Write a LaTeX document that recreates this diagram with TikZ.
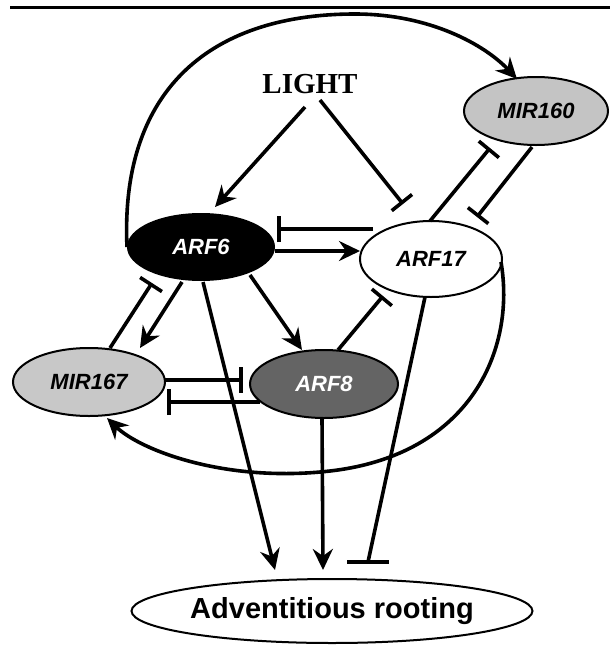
\documentclass[tikz,border=0pt]{standalone}
\usepackage{fontspec}
\setmainfont{Liberation Sans}
\newfontfamily\lightfont{Liberation Serif}
\usetikzlibrary{arrows.meta,shapes.geometric,calc}
\definecolor{mirA}{HTML}{C4C4C4}
\definecolor{mirB}{HTML}{C8C8C8}
\definecolor{arfEight}{HTML}{646464}
\tikzset{
  gene/.style={ellipse, draw=black, line width=2pt, inner sep=0pt,
    font=\fontsize{22}{25}\selectfont\bfseries\itshape},
  conn/.style={line width=3.6pt},
  arr/.style={conn, -{Stealth[length=21pt,width=20pt,inset=7pt]}},
  inh/.style={conn, -{Bar[width=26pt]}},
}
\begin{document}
\begin{tikzpicture}[x=1pt,y=-1pt]
\useasboundingbox (0,0) rectangle (610,646);
% top rule
\coordinate (ruleL) at (10,7);
\coordinate (ruleR) at (610,7);
\draw[line width=3pt] (ruleL) -- (ruleR);

% nodes
\node[font=\lightfont\fontsize{29}{32}\selectfont\bfseries] (light) at (310,84) {LIGHT};
\node[gene, fill=mirA, minimum width=144pt, minimum height=68pt] (mir160) at (536,111) {MIR160};
\node[gene, fill=black, text=white, minimum width=146pt, minimum height=66pt] (arf6) at (201,247) {ARF6};
\node[gene, fill=white, minimum width=142pt, minimum height=76pt] (arf17) at (431,259) {ARF17};
\node[gene, fill=mirB, minimum width=152pt, minimum height=68pt] (mir167) at (89,382) {MIR167};
\node[gene, fill=arfEight, text=white, minimum width=148pt, minimum height=68pt] (arf8) at (324,384) {ARF8};
\node[ellipse, draw=black, line width=2pt, inner sep=0pt, minimum width=366pt, minimum height=64pt,
  font=\fontsize{29}{32}\selectfont\bfseries] (ar) at (332,611) {Adventitious rooting};

% connectors
\draw[arr] ($(light)+(-5,23)$) -- ($(arf6)+(14,-40)$);
\draw[inh] ($(light)+(10,16)$) -- ($(arf17)+(-28,-55)$);
\draw[arr] (arf6.west) .. controls (120,95) and (205,14) .. (355,14)
  .. controls (430,14) and (485,45) .. ($(mir160)+(-19,-32)$);
\draw[inh] ($(arf17)+(-58,-30)$) -- ($(arf6)+(76,-18)$);
\draw[arr] ($(arf6)+(74,4)$) -- ($(arf17)+(-71,-8)$);
\draw[inh] ($(arf17)+(-1,-38)$) -- ($(mir160)+(-46,37)$);
\draw[inh] ($(mir160)+(-4,36)$) -- ($(arf17)+(46,-42)$);
\draw[inh] ($(mir167)+(21,-34)$) -- ($(arf6)+(-49,36)$);
\draw[arr] ($(arf6)+(-19,35)$) -- ($(mir167)+(51,-34)$);
\draw[arr] ($(arf6)+(49,28)$) -- ($(arf8)+(-22,-34)$);
\draw[inh] ($(arf8)+(14,-34)$) -- ($(arf17)+(-48,37)$);
\draw[inh] ($(mir167)+(76,-2)$) -- ($(arf8)+(-81,-4)$);
\draw[inh] ($(arf8)+(-64,18)$) -- ($(mir167)+(78,20)$);
\draw[arr] ($(arf17)+(70,3)$) .. controls (516,350) and (470,455) .. (330,471)
  .. controls (225,483) and (140,450) .. ($(mir167)+(18,36)$);
\draw[arr] ($(arf6)+(2,35)$) -- ($(ar)+(-57,-41)$);
\draw[arr] ($(arf8)+(-2,34)$) -- ($(ar)+(-9,-41)$);
\coordinate (arbar) at ($(ar)+(36,-49)$);
\draw[conn] ($(arf17)+(-6,38)$) -- (arbar);
\draw[line width=4pt] ($(arbar)+(-21,0)$) -- ($(arbar)+(21,0)$);
\end{tikzpicture}
\end{document}
